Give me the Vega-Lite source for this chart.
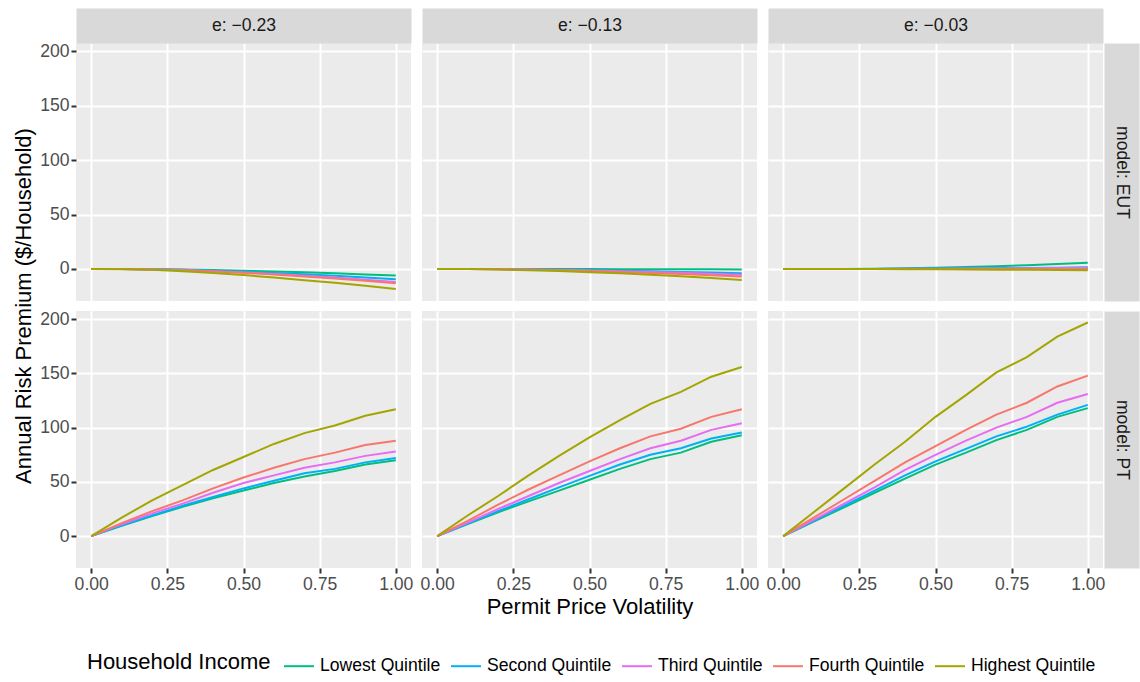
{
"$schema": "https://vega.github.io/schema/vega-lite/v6.json",
"padding": {"left": 12, "top": 16, "right": 24, "bottom": 0},
"background": "white",
"config": {
  "font": "Liberation Sans",
  "view": {"fill": "#EBEBEB", "stroke": null},
  "axis": {"gridColor": "#FFFFFF", "gridWidth": 2, "domain": false, "tickColor": "#333333", "tickWidth": 2, "tickSize": 5, "labelColor": "#4D4D4D", "labelFontSize": 17.6, "labelFont": "Liberation Sans", "labelFlush": false, "labelOverlap": false, "labelBound": false, "labelPadding": 2, "titleFont": "Liberation Sans", "titleFontSize": 22, "titleFontWeight": "normal", "titleColor": "#000000", "titlePadding": 4}
},
"data": {"values": [
{"m":"EUT","e":-0.23,"q":"Lowest Quintile","x":0,"y":0},{"m":"EUT","e":-0.23,"q":"Lowest Quintile","x":0.1,"y":0},{"m":"EUT","e":-0.23,"q":"Lowest Quintile","x":0.2,"y":-0.2},{"m":"EUT","e":-0.23,"q":"Lowest Quintile","x":0.3,"y":-0.5},{"m":"EUT","e":-0.23,"q":"Lowest Quintile","x":0.4,"y":-1},{"m":"EUT","e":-0.23,"q":"Lowest Quintile","x":0.5,"y":-1.6},{"m":"EUT","e":-0.23,"q":"Lowest Quintile","x":0.6,"y":-2.3},{"m":"EUT","e":-0.23,"q":"Lowest Quintile","x":0.7,"y":-3.1},{"m":"EUT","e":-0.23,"q":"Lowest Quintile","x":0.8,"y":-4},{"m":"EUT","e":-0.23,"q":"Lowest Quintile","x":0.9,"y":-5},{"m":"EUT","e":-0.23,"q":"Lowest Quintile","x":1,"y":-6},
{"m":"EUT","e":-0.23,"q":"Second Quintile","x":0,"y":0},{"m":"EUT","e":-0.23,"q":"Second Quintile","x":0.1,"y":0},{"m":"EUT","e":-0.23,"q":"Second Quintile","x":0.2,"y":-0.3},{"m":"EUT","e":-0.23,"q":"Second Quintile","x":0.3,"y":-0.8},{"m":"EUT","e":-0.23,"q":"Second Quintile","x":0.4,"y":-1.5},{"m":"EUT","e":-0.23,"q":"Second Quintile","x":0.5,"y":-2.5},{"m":"EUT","e":-0.23,"q":"Second Quintile","x":0.6,"y":-3.6},{"m":"EUT","e":-0.23,"q":"Second Quintile","x":0.7,"y":-4.9},{"m":"EUT","e":-0.23,"q":"Second Quintile","x":0.8,"y":-6.3},{"m":"EUT","e":-0.23,"q":"Second Quintile","x":0.9,"y":-7.8},{"m":"EUT","e":-0.23,"q":"Second Quintile","x":1,"y":-9.5},
{"m":"EUT","e":-0.23,"q":"Third Quintile","x":0,"y":0},{"m":"EUT","e":-0.23,"q":"Third Quintile","x":0.1,"y":0},{"m":"EUT","e":-0.23,"q":"Third Quintile","x":0.2,"y":-0.4},{"m":"EUT","e":-0.23,"q":"Third Quintile","x":0.3,"y":-1},{"m":"EUT","e":-0.23,"q":"Third Quintile","x":0.4,"y":-2},{"m":"EUT","e":-0.23,"q":"Third Quintile","x":0.5,"y":-3.2},{"m":"EUT","e":-0.23,"q":"Third Quintile","x":0.6,"y":-4.6},{"m":"EUT","e":-0.23,"q":"Third Quintile","x":0.7,"y":-6.2},{"m":"EUT","e":-0.23,"q":"Third Quintile","x":0.8,"y":-7.9},{"m":"EUT","e":-0.23,"q":"Third Quintile","x":0.9,"y":-9.9},{"m":"EUT","e":-0.23,"q":"Third Quintile","x":1,"y":-12},
{"m":"EUT","e":-0.23,"q":"Fourth Quintile","x":0,"y":0},{"m":"EUT","e":-0.23,"q":"Fourth Quintile","x":0.1,"y":0},{"m":"EUT","e":-0.23,"q":"Fourth Quintile","x":0.2,"y":-0.4},{"m":"EUT","e":-0.23,"q":"Fourth Quintile","x":0.3,"y":-1.1},{"m":"EUT","e":-0.23,"q":"Fourth Quintile","x":0.4,"y":-2.2},{"m":"EUT","e":-0.23,"q":"Fourth Quintile","x":0.5,"y":-3.5},{"m":"EUT","e":-0.23,"q":"Fourth Quintile","x":0.6,"y":-5},{"m":"EUT","e":-0.23,"q":"Fourth Quintile","x":0.7,"y":-6.8},{"m":"EUT","e":-0.23,"q":"Fourth Quintile","x":0.8,"y":-8.7},{"m":"EUT","e":-0.23,"q":"Fourth Quintile","x":0.9,"y":-10.8},{"m":"EUT","e":-0.23,"q":"Fourth Quintile","x":1,"y":-13},
{"m":"EUT","e":-0.23,"q":"Highest Quintile","x":0,"y":0},{"m":"EUT","e":-0.23,"q":"Highest Quintile","x":0.1,"y":-0.2},{"m":"EUT","e":-0.23,"q":"Highest Quintile","x":0.2,"y":-0.8},{"m":"EUT","e":-0.23,"q":"Highest Quintile","x":0.3,"y":-2},{"m":"EUT","e":-0.23,"q":"Highest Quintile","x":0.4,"y":-3.6},{"m":"EUT","e":-0.23,"q":"Highest Quintile","x":0.5,"y":-5.6},{"m":"EUT","e":-0.23,"q":"Highest Quintile","x":0.6,"y":-7.8},{"m":"EUT","e":-0.23,"q":"Highest Quintile","x":0.7,"y":-10.3},{"m":"EUT","e":-0.23,"q":"Highest Quintile","x":0.8,"y":-12.6},{"m":"EUT","e":-0.23,"q":"Highest Quintile","x":0.9,"y":-15.4},{"m":"EUT","e":-0.23,"q":"Highest Quintile","x":1,"y":-18.3},
{"m":"EUT","e":-0.13,"q":"Lowest Quintile","x":0,"y":0},{"m":"EUT","e":-0.13,"q":"Lowest Quintile","x":0.1,"y":0},{"m":"EUT","e":-0.13,"q":"Lowest Quintile","x":0.2,"y":0},{"m":"EUT","e":-0.13,"q":"Lowest Quintile","x":0.3,"y":0},{"m":"EUT","e":-0.13,"q":"Lowest Quintile","x":0.4,"y":-0.1},{"m":"EUT","e":-0.13,"q":"Lowest Quintile","x":0.5,"y":-0.1},{"m":"EUT","e":-0.13,"q":"Lowest Quintile","x":0.6,"y":-0.2},{"m":"EUT","e":-0.13,"q":"Lowest Quintile","x":0.7,"y":-0.2},{"m":"EUT","e":-0.13,"q":"Lowest Quintile","x":0.8,"y":-0.3},{"m":"EUT","e":-0.13,"q":"Lowest Quintile","x":0.9,"y":-0.3},{"m":"EUT","e":-0.13,"q":"Lowest Quintile","x":1,"y":-0.4},
{"m":"EUT","e":-0.13,"q":"Second Quintile","x":0,"y":0},{"m":"EUT","e":-0.13,"q":"Second Quintile","x":0.1,"y":0},{"m":"EUT","e":-0.13,"q":"Second Quintile","x":0.2,"y":-0.1},{"m":"EUT","e":-0.13,"q":"Second Quintile","x":0.3,"y":-0.3},{"m":"EUT","e":-0.13,"q":"Second Quintile","x":0.4,"y":-0.6},{"m":"EUT","e":-0.13,"q":"Second Quintile","x":0.5,"y":-1},{"m":"EUT","e":-0.13,"q":"Second Quintile","x":0.6,"y":-1.5},{"m":"EUT","e":-0.13,"q":"Second Quintile","x":0.7,"y":-2.1},{"m":"EUT","e":-0.13,"q":"Second Quintile","x":0.8,"y":-2.7},{"m":"EUT","e":-0.13,"q":"Second Quintile","x":0.9,"y":-3.3},{"m":"EUT","e":-0.13,"q":"Second Quintile","x":1,"y":-4},
{"m":"EUT","e":-0.13,"q":"Third Quintile","x":0,"y":0},{"m":"EUT","e":-0.13,"q":"Third Quintile","x":0.1,"y":0},{"m":"EUT","e":-0.13,"q":"Third Quintile","x":0.2,"y":-0.2},{"m":"EUT","e":-0.13,"q":"Third Quintile","x":0.3,"y":-0.5},{"m":"EUT","e":-0.13,"q":"Third Quintile","x":0.4,"y":-0.9},{"m":"EUT","e":-0.13,"q":"Third Quintile","x":0.5,"y":-1.4},{"m":"EUT","e":-0.13,"q":"Third Quintile","x":0.6,"y":-2},{"m":"EUT","e":-0.13,"q":"Third Quintile","x":0.7,"y":-2.7},{"m":"EUT","e":-0.13,"q":"Third Quintile","x":0.8,"y":-3.5},{"m":"EUT","e":-0.13,"q":"Third Quintile","x":0.9,"y":-4.3},{"m":"EUT","e":-0.13,"q":"Third Quintile","x":1,"y":-5.2},
{"m":"EUT","e":-0.13,"q":"Fourth Quintile","x":0,"y":0},{"m":"EUT","e":-0.13,"q":"Fourth Quintile","x":0.1,"y":0},{"m":"EUT","e":-0.13,"q":"Fourth Quintile","x":0.2,"y":-0.3},{"m":"EUT","e":-0.13,"q":"Fourth Quintile","x":0.3,"y":-0.7},{"m":"EUT","e":-0.13,"q":"Fourth Quintile","x":0.4,"y":-1.2},{"m":"EUT","e":-0.13,"q":"Fourth Quintile","x":0.5,"y":-1.9},{"m":"EUT","e":-0.13,"q":"Fourth Quintile","x":0.6,"y":-2.7},{"m":"EUT","e":-0.13,"q":"Fourth Quintile","x":0.7,"y":-3.6},{"m":"EUT","e":-0.13,"q":"Fourth Quintile","x":0.8,"y":-4.6},{"m":"EUT","e":-0.13,"q":"Fourth Quintile","x":0.9,"y":-5.7},{"m":"EUT","e":-0.13,"q":"Fourth Quintile","x":1,"y":-6.8},
{"m":"EUT","e":-0.13,"q":"Highest Quintile","x":0,"y":0},{"m":"EUT","e":-0.13,"q":"Highest Quintile","x":0.1,"y":-0.1},{"m":"EUT","e":-0.13,"q":"Highest Quintile","x":0.2,"y":-0.5},{"m":"EUT","e":-0.13,"q":"Highest Quintile","x":0.3,"y":-1.1},{"m":"EUT","e":-0.13,"q":"Highest Quintile","x":0.4,"y":-1.9},{"m":"EUT","e":-0.13,"q":"Highest Quintile","x":0.5,"y":-2.9},{"m":"EUT","e":-0.13,"q":"Highest Quintile","x":0.6,"y":-4},{"m":"EUT","e":-0.13,"q":"Highest Quintile","x":0.7,"y":-5.3},{"m":"EUT","e":-0.13,"q":"Highest Quintile","x":0.8,"y":-6.7},{"m":"EUT","e":-0.13,"q":"Highest Quintile","x":0.9,"y":-8.3},{"m":"EUT","e":-0.13,"q":"Highest Quintile","x":1,"y":-10},
{"m":"EUT","e":-0.03,"q":"Lowest Quintile","x":0,"y":0},{"m":"EUT","e":-0.03,"q":"Lowest Quintile","x":0.1,"y":0},{"m":"EUT","e":-0.03,"q":"Lowest Quintile","x":0.2,"y":0.1},{"m":"EUT","e":-0.03,"q":"Lowest Quintile","x":0.3,"y":0.3},{"m":"EUT","e":-0.03,"q":"Lowest Quintile","x":0.4,"y":0.7},{"m":"EUT","e":-0.03,"q":"Lowest Quintile","x":0.5,"y":1.2},{"m":"EUT","e":-0.03,"q":"Lowest Quintile","x":0.6,"y":1.8},{"m":"EUT","e":-0.03,"q":"Lowest Quintile","x":0.7,"y":2.6},{"m":"EUT","e":-0.03,"q":"Lowest Quintile","x":0.8,"y":3.5},{"m":"EUT","e":-0.03,"q":"Lowest Quintile","x":0.9,"y":4.6},{"m":"EUT","e":-0.03,"q":"Lowest Quintile","x":1,"y":5.8},
{"m":"EUT","e":-0.03,"q":"Second Quintile","x":0,"y":0},{"m":"EUT","e":-0.03,"q":"Second Quintile","x":0.1,"y":0},{"m":"EUT","e":-0.03,"q":"Second Quintile","x":0.2,"y":0},{"m":"EUT","e":-0.03,"q":"Second Quintile","x":0.3,"y":0.1},{"m":"EUT","e":-0.03,"q":"Second Quintile","x":0.4,"y":0.2},{"m":"EUT","e":-0.03,"q":"Second Quintile","x":0.5,"y":0.4},{"m":"EUT","e":-0.03,"q":"Second Quintile","x":0.6,"y":0.6},{"m":"EUT","e":-0.03,"q":"Second Quintile","x":0.7,"y":0.8},{"m":"EUT","e":-0.03,"q":"Second Quintile","x":0.8,"y":1},{"m":"EUT","e":-0.03,"q":"Second Quintile","x":0.9,"y":1.2},{"m":"EUT","e":-0.03,"q":"Second Quintile","x":1,"y":1.5},
{"m":"EUT","e":-0.03,"q":"Third Quintile","x":0,"y":0},{"m":"EUT","e":-0.03,"q":"Third Quintile","x":0.1,"y":0},{"m":"EUT","e":-0.03,"q":"Third Quintile","x":0.2,"y":0},{"m":"EUT","e":-0.03,"q":"Third Quintile","x":0.3,"y":0.1},{"m":"EUT","e":-0.03,"q":"Third Quintile","x":0.4,"y":0.2},{"m":"EUT","e":-0.03,"q":"Third Quintile","x":0.5,"y":0.3},{"m":"EUT","e":-0.03,"q":"Third Quintile","x":0.6,"y":0.4},{"m":"EUT","e":-0.03,"q":"Third Quintile","x":0.7,"y":0.5},{"m":"EUT","e":-0.03,"q":"Third Quintile","x":0.8,"y":0.7},{"m":"EUT","e":-0.03,"q":"Third Quintile","x":0.9,"y":0.8},{"m":"EUT","e":-0.03,"q":"Third Quintile","x":1,"y":1},
{"m":"EUT","e":-0.03,"q":"Fourth Quintile","x":0,"y":0},{"m":"EUT","e":-0.03,"q":"Fourth Quintile","x":0.1,"y":0},{"m":"EUT","e":-0.03,"q":"Fourth Quintile","x":0.2,"y":0},{"m":"EUT","e":-0.03,"q":"Fourth Quintile","x":0.3,"y":0},{"m":"EUT","e":-0.03,"q":"Fourth Quintile","x":0.4,"y":0},{"m":"EUT","e":-0.03,"q":"Fourth Quintile","x":0.5,"y":0},{"m":"EUT","e":-0.03,"q":"Fourth Quintile","x":0.6,"y":0},{"m":"EUT","e":-0.03,"q":"Fourth Quintile","x":0.7,"y":0},{"m":"EUT","e":-0.03,"q":"Fourth Quintile","x":0.8,"y":0.1},{"m":"EUT","e":-0.03,"q":"Fourth Quintile","x":0.9,"y":0.1},{"m":"EUT","e":-0.03,"q":"Fourth Quintile","x":1,"y":0.1},
{"m":"EUT","e":-0.03,"q":"Highest Quintile","x":0,"y":0},{"m":"EUT","e":-0.03,"q":"Highest Quintile","x":0.1,"y":0},{"m":"EUT","e":-0.03,"q":"Highest Quintile","x":0.2,"y":0},{"m":"EUT","e":-0.03,"q":"Highest Quintile","x":0.3,"y":-0.1},{"m":"EUT","e":-0.03,"q":"Highest Quintile","x":0.4,"y":-0.2},{"m":"EUT","e":-0.03,"q":"Highest Quintile","x":0.5,"y":-0.3},{"m":"EUT","e":-0.03,"q":"Highest Quintile","x":0.6,"y":-0.5},{"m":"EUT","e":-0.03,"q":"Highest Quintile","x":0.7,"y":-0.6},{"m":"EUT","e":-0.03,"q":"Highest Quintile","x":0.8,"y":-0.8},{"m":"EUT","e":-0.03,"q":"Highest Quintile","x":0.9,"y":-1},{"m":"EUT","e":-0.03,"q":"Highest Quintile","x":1,"y":-1.2},
{"m":"PT","e":-0.23,"q":"Lowest Quintile","x":0,"y":0},{"m":"PT","e":-0.23,"q":"Lowest Quintile","x":0.1,"y":9.5},{"m":"PT","e":-0.23,"q":"Lowest Quintile","x":0.2,"y":18.5},{"m":"PT","e":-0.23,"q":"Lowest Quintile","x":0.3,"y":27},{"m":"PT","e":-0.23,"q":"Lowest Quintile","x":0.4,"y":35},{"m":"PT","e":-0.23,"q":"Lowest Quintile","x":0.5,"y":42},{"m":"PT","e":-0.23,"q":"Lowest Quintile","x":0.6,"y":49},{"m":"PT","e":-0.23,"q":"Lowest Quintile","x":0.7,"y":55},{"m":"PT","e":-0.23,"q":"Lowest Quintile","x":0.8,"y":60},{"m":"PT","e":-0.23,"q":"Lowest Quintile","x":0.9,"y":66},{"m":"PT","e":-0.23,"q":"Lowest Quintile","x":1,"y":70},
{"m":"PT","e":-0.23,"q":"Second Quintile","x":0,"y":0},{"m":"PT","e":-0.23,"q":"Second Quintile","x":0.1,"y":10},{"m":"PT","e":-0.23,"q":"Second Quintile","x":0.2,"y":19},{"m":"PT","e":-0.23,"q":"Second Quintile","x":0.3,"y":28},{"m":"PT","e":-0.23,"q":"Second Quintile","x":0.4,"y":36},{"m":"PT","e":-0.23,"q":"Second Quintile","x":0.5,"y":44},{"m":"PT","e":-0.23,"q":"Second Quintile","x":0.6,"y":51},{"m":"PT","e":-0.23,"q":"Second Quintile","x":0.7,"y":58},{"m":"PT","e":-0.23,"q":"Second Quintile","x":0.8,"y":62},{"m":"PT","e":-0.23,"q":"Second Quintile","x":0.9,"y":68},{"m":"PT","e":-0.23,"q":"Second Quintile","x":1,"y":72},
{"m":"PT","e":-0.23,"q":"Third Quintile","x":0,"y":0},{"m":"PT","e":-0.23,"q":"Third Quintile","x":0.1,"y":11},{"m":"PT","e":-0.23,"q":"Third Quintile","x":0.2,"y":21},{"m":"PT","e":-0.23,"q":"Third Quintile","x":0.3,"y":30},{"m":"PT","e":-0.23,"q":"Third Quintile","x":0.4,"y":40},{"m":"PT","e":-0.23,"q":"Third Quintile","x":0.5,"y":49},{"m":"PT","e":-0.23,"q":"Third Quintile","x":0.6,"y":56},{"m":"PT","e":-0.23,"q":"Third Quintile","x":0.7,"y":63},{"m":"PT","e":-0.23,"q":"Third Quintile","x":0.8,"y":68},{"m":"PT","e":-0.23,"q":"Third Quintile","x":0.9,"y":74},{"m":"PT","e":-0.23,"q":"Third Quintile","x":1,"y":78},
{"m":"PT","e":-0.23,"q":"Fourth Quintile","x":0,"y":0},{"m":"PT","e":-0.23,"q":"Fourth Quintile","x":0.1,"y":12},{"m":"PT","e":-0.23,"q":"Fourth Quintile","x":0.2,"y":23},{"m":"PT","e":-0.23,"q":"Fourth Quintile","x":0.3,"y":33},{"m":"PT","e":-0.23,"q":"Fourth Quintile","x":0.4,"y":44},{"m":"PT","e":-0.23,"q":"Fourth Quintile","x":0.5,"y":54},{"m":"PT","e":-0.23,"q":"Fourth Quintile","x":0.6,"y":63},{"m":"PT","e":-0.23,"q":"Fourth Quintile","x":0.7,"y":71},{"m":"PT","e":-0.23,"q":"Fourth Quintile","x":0.8,"y":77},{"m":"PT","e":-0.23,"q":"Fourth Quintile","x":0.9,"y":84},{"m":"PT","e":-0.23,"q":"Fourth Quintile","x":1,"y":88},
{"m":"PT","e":-0.23,"q":"Highest Quintile","x":0,"y":0},{"m":"PT","e":-0.23,"q":"Highest Quintile","x":0.1,"y":17},{"m":"PT","e":-0.23,"q":"Highest Quintile","x":0.2,"y":33},{"m":"PT","e":-0.23,"q":"Highest Quintile","x":0.3,"y":47},{"m":"PT","e":-0.23,"q":"Highest Quintile","x":0.4,"y":61},{"m":"PT","e":-0.23,"q":"Highest Quintile","x":0.5,"y":73},{"m":"PT","e":-0.23,"q":"Highest Quintile","x":0.6,"y":85},{"m":"PT","e":-0.23,"q":"Highest Quintile","x":0.7,"y":95},{"m":"PT","e":-0.23,"q":"Highest Quintile","x":0.8,"y":102},{"m":"PT","e":-0.23,"q":"Highest Quintile","x":0.9,"y":111},{"m":"PT","e":-0.23,"q":"Highest Quintile","x":1,"y":117},
{"m":"PT","e":-0.13,"q":"Lowest Quintile","x":0,"y":0},{"m":"PT","e":-0.13,"q":"Lowest Quintile","x":0.1,"y":11},{"m":"PT","e":-0.13,"q":"Lowest Quintile","x":0.2,"y":22},{"m":"PT","e":-0.13,"q":"Lowest Quintile","x":0.3,"y":32},{"m":"PT","e":-0.13,"q":"Lowest Quintile","x":0.4,"y":42},{"m":"PT","e":-0.13,"q":"Lowest Quintile","x":0.5,"y":52},{"m":"PT","e":-0.13,"q":"Lowest Quintile","x":0.6,"y":62},{"m":"PT","e":-0.13,"q":"Lowest Quintile","x":0.7,"y":71},{"m":"PT","e":-0.13,"q":"Lowest Quintile","x":0.8,"y":77},{"m":"PT","e":-0.13,"q":"Lowest Quintile","x":0.9,"y":87},{"m":"PT","e":-0.13,"q":"Lowest Quintile","x":1,"y":93},
{"m":"PT","e":-0.13,"q":"Second Quintile","x":0,"y":0},{"m":"PT","e":-0.13,"q":"Second Quintile","x":0.1,"y":11.5},{"m":"PT","e":-0.13,"q":"Second Quintile","x":0.2,"y":23},{"m":"PT","e":-0.13,"q":"Second Quintile","x":0.3,"y":34},{"m":"PT","e":-0.13,"q":"Second Quintile","x":0.4,"y":45},{"m":"PT","e":-0.13,"q":"Second Quintile","x":0.5,"y":55.5},{"m":"PT","e":-0.13,"q":"Second Quintile","x":0.6,"y":66},{"m":"PT","e":-0.13,"q":"Second Quintile","x":0.7,"y":75},{"m":"PT","e":-0.13,"q":"Second Quintile","x":0.8,"y":81},{"m":"PT","e":-0.13,"q":"Second Quintile","x":0.9,"y":90},{"m":"PT","e":-0.13,"q":"Second Quintile","x":1,"y":95.5},
{"m":"PT","e":-0.13,"q":"Third Quintile","x":0,"y":0},{"m":"PT","e":-0.13,"q":"Third Quintile","x":0.1,"y":12.5},{"m":"PT","e":-0.13,"q":"Third Quintile","x":0.2,"y":25},{"m":"PT","e":-0.13,"q":"Third Quintile","x":0.3,"y":37},{"m":"PT","e":-0.13,"q":"Third Quintile","x":0.4,"y":49},{"m":"PT","e":-0.13,"q":"Third Quintile","x":0.5,"y":60},{"m":"PT","e":-0.13,"q":"Third Quintile","x":0.6,"y":71},{"m":"PT","e":-0.13,"q":"Third Quintile","x":0.7,"y":81},{"m":"PT","e":-0.13,"q":"Third Quintile","x":0.8,"y":88},{"m":"PT","e":-0.13,"q":"Third Quintile","x":0.9,"y":98},{"m":"PT","e":-0.13,"q":"Third Quintile","x":1,"y":104},
{"m":"PT","e":-0.13,"q":"Fourth Quintile","x":0,"y":0},{"m":"PT","e":-0.13,"q":"Fourth Quintile","x":0.1,"y":14},{"m":"PT","e":-0.13,"q":"Fourth Quintile","x":0.2,"y":29},{"m":"PT","e":-0.13,"q":"Fourth Quintile","x":0.3,"y":43},{"m":"PT","e":-0.13,"q":"Fourth Quintile","x":0.4,"y":56},{"m":"PT","e":-0.13,"q":"Fourth Quintile","x":0.5,"y":69},{"m":"PT","e":-0.13,"q":"Fourth Quintile","x":0.6,"y":81},{"m":"PT","e":-0.13,"q":"Fourth Quintile","x":0.7,"y":92},{"m":"PT","e":-0.13,"q":"Fourth Quintile","x":0.8,"y":99},{"m":"PT","e":-0.13,"q":"Fourth Quintile","x":0.9,"y":110},{"m":"PT","e":-0.13,"q":"Fourth Quintile","x":1,"y":117},
{"m":"PT","e":-0.13,"q":"Highest Quintile","x":0,"y":0},{"m":"PT","e":-0.13,"q":"Highest Quintile","x":0.1,"y":19},{"m":"PT","e":-0.13,"q":"Highest Quintile","x":0.2,"y":37},{"m":"PT","e":-0.13,"q":"Highest Quintile","x":0.3,"y":56},{"m":"PT","e":-0.13,"q":"Highest Quintile","x":0.4,"y":74},{"m":"PT","e":-0.13,"q":"Highest Quintile","x":0.5,"y":91},{"m":"PT","e":-0.13,"q":"Highest Quintile","x":0.6,"y":107},{"m":"PT","e":-0.13,"q":"Highest Quintile","x":0.7,"y":122},{"m":"PT","e":-0.13,"q":"Highest Quintile","x":0.8,"y":133},{"m":"PT","e":-0.13,"q":"Highest Quintile","x":0.9,"y":147},{"m":"PT","e":-0.13,"q":"Highest Quintile","x":1,"y":156},
{"m":"PT","e":-0.03,"q":"Lowest Quintile","x":0,"y":0},{"m":"PT","e":-0.03,"q":"Lowest Quintile","x":0.1,"y":13.5},{"m":"PT","e":-0.03,"q":"Lowest Quintile","x":0.2,"y":26.5},{"m":"PT","e":-0.03,"q":"Lowest Quintile","x":0.3,"y":40},{"m":"PT","e":-0.03,"q":"Lowest Quintile","x":0.4,"y":53},{"m":"PT","e":-0.03,"q":"Lowest Quintile","x":0.5,"y":66},{"m":"PT","e":-0.03,"q":"Lowest Quintile","x":0.6,"y":77},{"m":"PT","e":-0.03,"q":"Lowest Quintile","x":0.7,"y":88.5},{"m":"PT","e":-0.03,"q":"Lowest Quintile","x":0.8,"y":98},{"m":"PT","e":-0.03,"q":"Lowest Quintile","x":0.9,"y":110},{"m":"PT","e":-0.03,"q":"Lowest Quintile","x":1,"y":118},
{"m":"PT","e":-0.03,"q":"Second Quintile","x":0,"y":0},{"m":"PT","e":-0.03,"q":"Second Quintile","x":0.1,"y":14},{"m":"PT","e":-0.03,"q":"Second Quintile","x":0.2,"y":28},{"m":"PT","e":-0.03,"q":"Second Quintile","x":0.3,"y":42},{"m":"PT","e":-0.03,"q":"Second Quintile","x":0.4,"y":56},{"m":"PT","e":-0.03,"q":"Second Quintile","x":0.5,"y":69},{"m":"PT","e":-0.03,"q":"Second Quintile","x":0.6,"y":80.5},{"m":"PT","e":-0.03,"q":"Second Quintile","x":0.7,"y":92},{"m":"PT","e":-0.03,"q":"Second Quintile","x":0.8,"y":101},{"m":"PT","e":-0.03,"q":"Second Quintile","x":0.9,"y":112},{"m":"PT","e":-0.03,"q":"Second Quintile","x":1,"y":121},
{"m":"PT","e":-0.03,"q":"Third Quintile","x":0,"y":0},{"m":"PT","e":-0.03,"q":"Third Quintile","x":0.1,"y":15},{"m":"PT","e":-0.03,"q":"Third Quintile","x":0.2,"y":30},{"m":"PT","e":-0.03,"q":"Third Quintile","x":0.3,"y":45},{"m":"PT","e":-0.03,"q":"Third Quintile","x":0.4,"y":61},{"m":"PT","e":-0.03,"q":"Third Quintile","x":0.5,"y":75},{"m":"PT","e":-0.03,"q":"Third Quintile","x":0.6,"y":88},{"m":"PT","e":-0.03,"q":"Third Quintile","x":0.7,"y":100},{"m":"PT","e":-0.03,"q":"Third Quintile","x":0.8,"y":110},{"m":"PT","e":-0.03,"q":"Third Quintile","x":0.9,"y":123},{"m":"PT","e":-0.03,"q":"Third Quintile","x":1,"y":131},
{"m":"PT","e":-0.03,"q":"Fourth Quintile","x":0,"y":0},{"m":"PT","e":-0.03,"q":"Fourth Quintile","x":0.1,"y":17},{"m":"PT","e":-0.03,"q":"Fourth Quintile","x":0.2,"y":34},{"m":"PT","e":-0.03,"q":"Fourth Quintile","x":0.3,"y":51},{"m":"PT","e":-0.03,"q":"Fourth Quintile","x":0.4,"y":68},{"m":"PT","e":-0.03,"q":"Fourth Quintile","x":0.5,"y":83},{"m":"PT","e":-0.03,"q":"Fourth Quintile","x":0.6,"y":98},{"m":"PT","e":-0.03,"q":"Fourth Quintile","x":0.7,"y":112},{"m":"PT","e":-0.03,"q":"Fourth Quintile","x":0.8,"y":123},{"m":"PT","e":-0.03,"q":"Fourth Quintile","x":0.9,"y":138},{"m":"PT","e":-0.03,"q":"Fourth Quintile","x":1,"y":148},
{"m":"PT","e":-0.03,"q":"Highest Quintile","x":0,"y":0},{"m":"PT","e":-0.03,"q":"Highest Quintile","x":0.1,"y":22},{"m":"PT","e":-0.03,"q":"Highest Quintile","x":0.2,"y":44},{"m":"PT","e":-0.03,"q":"Highest Quintile","x":0.3,"y":66},{"m":"PT","e":-0.03,"q":"Highest Quintile","x":0.4,"y":87},{"m":"PT","e":-0.03,"q":"Highest Quintile","x":0.5,"y":110},{"m":"PT","e":-0.03,"q":"Highest Quintile","x":0.6,"y":130},{"m":"PT","e":-0.03,"q":"Highest Quintile","x":0.7,"y":151},{"m":"PT","e":-0.03,"q":"Highest Quintile","x":0.8,"y":165},{"m":"PT","e":-0.03,"q":"Highest Quintile","x":0.9,"y":184},{"m":"PT","e":-0.03,"q":"Highest Quintile","x":1,"y":197}
]},
"columns": 3,
"spacing": {"row": 10, "column": 11},
"bounds": "flush",
"concat": [
{
 "width": 335, "height": 258,
 "transform": [{"filter": "datum.m === 'EUT' && datum.e === -0.23"}],
 "layer": [
  {"mark": {"type": "line", "strokeWidth": 2},
   "encoding": {
    "x": {"field": "x", "type": "quantitative", "scale": {"domain": [-0.05, 1.05], "nice": false, "zero": false}, "axis": {"orient": "bottom", "values": [0, 0.25, 0.5, 0.75, 1], "labels": false, "ticks": false, "title": null}},
    "y": {"field": "y", "type": "quantitative", "scale": {"domain": [-29.4, 207.6], "nice": false, "zero": false}, "axis": {"orient": "left", "values": [0, 50, 100, 150, 200], "title": "Annual Risk Premium ($/Household)", "titleY": 262.5}},
    "color": {"field": "q", "type": "nominal", "scale": {"domain": ["Lowest Quintile", "Second Quintile", "Third Quintile", "Fourth Quintile", "Highest Quintile"], "range": ["#00BF7D", "#00B0F6", "#E76BF3", "#F8766D", "#A3A500"]}, "legend": {"orient": "none", "legendX": 11, "legendY": 607, "direction": "horizontal", "title": "Household Income", "titleOrient": "left", "titleAnchor": "middle", "titleLimit": 400, "titleFontSize": 22, "titleFontWeight": "normal", "titleColor": "#000000", "titlePadding": 12, "titleBaseline": "middle", "labelFontSize": 17.6, "labelColor": "#000000", "labelLimit": 300, "symbolType": "stroke", "symbolStrokeWidth": 2, "symbolSize": 900, "labelOffset": 5, "columnPadding": 6}}
   }},
  {"mark": {"type": "point", "opacity": 0},
   "encoding": {
    "x": {"field": "x", "type": "quantitative", "scale": {"domain": [-0.05, 1.05], "nice": false, "zero": false}, "axis": {"orient": "top", "values": [0.125, 0.375, 0.625, 0.875], "gridWidth": 1, "labels": false, "ticks": false, "domain": true, "domainWidth": 35, "domainColor": "#D9D9D9", "offset": 17.5, "title": "e: −0.23", "titleY": 0, "titleBaseline": "middle", "titleFontSize": 17.6, "titleColor": "#1A1A1A"}},
    "y": {"field": "y", "type": "quantitative", "scale": {"domain": [-29.4, 207.6], "nice": false, "zero": false}, "axis": {"orient": "right", "values": [-25, 25, 75, 125, 175], "gridWidth": 1, "labels": false, "ticks": false, "title": null}}
   }}
 ],
 "resolve": {"axis": {"x": "independent", "y": "independent"}}
},
{
 "width": 335, "height": 258,
 "transform": [{"filter": "datum.m === 'EUT' && datum.e === -0.13"}],
 "layer": [
  {"mark": {"type": "line", "strokeWidth": 2},
   "encoding": {
    "x": {"field": "x", "type": "quantitative", "scale": {"domain": [-0.05, 1.05], "nice": false, "zero": false}, "axis": {"orient": "bottom", "values": [0, 0.25, 0.5, 0.75, 1], "labels": false, "ticks": false, "title": null}},
    "y": {"field": "y", "type": "quantitative", "scale": {"domain": [-29.4, 207.6], "nice": false, "zero": false}, "axis": {"orient": "left", "values": [0, 50, 100, 150, 200], "labels": false, "ticks": false, "title": null}},
    "color": {"field": "q", "type": "nominal", "scale": {"domain": ["Lowest Quintile", "Second Quintile", "Third Quintile", "Fourth Quintile", "Highest Quintile"], "range": ["#00BF7D", "#00B0F6", "#E76BF3", "#F8766D", "#A3A500"]}, "legend": {"orient": "none", "legendX": 11, "legendY": 607, "direction": "horizontal", "title": "Household Income", "titleOrient": "left", "titleAnchor": "middle", "titleLimit": 400, "titleFontSize": 22, "titleFontWeight": "normal", "titleColor": "#000000", "titlePadding": 12, "titleBaseline": "middle", "labelFontSize": 17.6, "labelColor": "#000000", "labelLimit": 300, "symbolType": "stroke", "symbolStrokeWidth": 2, "symbolSize": 900, "labelOffset": 5, "columnPadding": 6}}
   }},
  {"mark": {"type": "point", "opacity": 0},
   "encoding": {
    "x": {"field": "x", "type": "quantitative", "scale": {"domain": [-0.05, 1.05], "nice": false, "zero": false}, "axis": {"orient": "top", "values": [0.125, 0.375, 0.625, 0.875], "gridWidth": 1, "labels": false, "ticks": false, "domain": true, "domainWidth": 35, "domainColor": "#D9D9D9", "offset": 17.5, "title": "e: −0.13", "titleY": 0, "titleBaseline": "middle", "titleFontSize": 17.6, "titleColor": "#1A1A1A"}},
    "y": {"field": "y", "type": "quantitative", "scale": {"domain": [-29.4, 207.6], "nice": false, "zero": false}, "axis": {"orient": "right", "values": [-25, 25, 75, 125, 175], "gridWidth": 1, "labels": false, "ticks": false, "title": null}}
   }}
 ],
 "resolve": {"axis": {"x": "independent", "y": "independent"}}
},
{
 "width": 335, "height": 258,
 "transform": [{"filter": "datum.m === 'EUT' && datum.e === -0.03"}],
 "layer": [
  {"mark": {"type": "line", "strokeWidth": 2},
   "encoding": {
    "x": {"field": "x", "type": "quantitative", "scale": {"domain": [-0.05, 1.05], "nice": false, "zero": false}, "axis": {"orient": "bottom", "values": [0, 0.25, 0.5, 0.75, 1], "labels": false, "ticks": false, "title": null}},
    "y": {"field": "y", "type": "quantitative", "scale": {"domain": [-29.4, 207.6], "nice": false, "zero": false}, "axis": {"orient": "left", "values": [0, 50, 100, 150, 200], "labels": false, "ticks": false, "title": null}},
    "color": {"field": "q", "type": "nominal", "scale": {"domain": ["Lowest Quintile", "Second Quintile", "Third Quintile", "Fourth Quintile", "Highest Quintile"], "range": ["#00BF7D", "#00B0F6", "#E76BF3", "#F8766D", "#A3A500"]}, "legend": {"orient": "none", "legendX": 11, "legendY": 607, "direction": "horizontal", "title": "Household Income", "titleOrient": "left", "titleAnchor": "middle", "titleLimit": 400, "titleFontSize": 22, "titleFontWeight": "normal", "titleColor": "#000000", "titlePadding": 12, "titleBaseline": "middle", "labelFontSize": 17.6, "labelColor": "#000000", "labelLimit": 300, "symbolType": "stroke", "symbolStrokeWidth": 2, "symbolSize": 900, "labelOffset": 5, "columnPadding": 6}}
   }},
  {"mark": {"type": "point", "opacity": 0},
   "encoding": {
    "x": {"field": "x", "type": "quantitative", "scale": {"domain": [-0.05, 1.05], "nice": false, "zero": false}, "axis": {"orient": "top", "values": [0.125, 0.375, 0.625, 0.875], "gridWidth": 1, "labels": false, "ticks": false, "domain": true, "domainWidth": 35, "domainColor": "#D9D9D9", "offset": 17.5, "title": "e: −0.03", "titleY": 0, "titleBaseline": "middle", "titleFontSize": 17.6, "titleColor": "#1A1A1A"}},
    "y": {"field": "y", "type": "quantitative", "scale": {"domain": [-29.4, 207.6], "nice": false, "zero": false}, "axis": {"orient": "right", "values": [-25, 25, 75, 125, 175], "gridWidth": 1, "labels": false, "ticks": false, "domain": true, "domainWidth": 35, "domainColor": "#D9D9D9", "offset": 18.5, "title": "model: EUT", "titleAngle": 90, "titleX": 0, "titleY": 129, "titleAlign": "center", "titleBaseline": "middle", "titleFontSize": 17.6, "titleColor": "#1A1A1A"}}
   }}
 ],
 "resolve": {"axis": {"x": "independent", "y": "independent"}}
},
{
 "width": 335, "height": 257,
 "transform": [{"filter": "datum.m === 'PT' && datum.e === -0.23"}],
 "layer": [
  {"mark": {"type": "line", "strokeWidth": 2},
   "encoding": {
    "x": {"field": "x", "type": "quantitative", "scale": {"domain": [-0.05, 1.05], "nice": false, "zero": false}, "axis": {"orient": "bottom", "values": [0, 0.25, 0.5, 0.75, 1], "format": ".2f", "title": null}},
    "y": {"field": "y", "type": "quantitative", "scale": {"domain": [-29.4, 207.6], "nice": false, "zero": false}, "axis": {"orient": "left", "values": [0, 50, 100, 150, 200], "title": null}},
    "color": {"field": "q", "type": "nominal", "scale": {"domain": ["Lowest Quintile", "Second Quintile", "Third Quintile", "Fourth Quintile", "Highest Quintile"], "range": ["#00BF7D", "#00B0F6", "#E76BF3", "#F8766D", "#A3A500"]}, "legend": {"orient": "none", "legendX": 11, "legendY": 607, "direction": "horizontal", "title": "Household Income", "titleOrient": "left", "titleAnchor": "middle", "titleLimit": 400, "titleFontSize": 22, "titleFontWeight": "normal", "titleColor": "#000000", "titlePadding": 12, "titleBaseline": "middle", "labelFontSize": 17.6, "labelColor": "#000000", "labelLimit": 300, "symbolType": "stroke", "symbolStrokeWidth": 2, "symbolSize": 900, "labelOffset": 5, "columnPadding": 6}}
   }},
  {"mark": {"type": "point", "opacity": 0},
   "encoding": {
    "x": {"field": "x", "type": "quantitative", "scale": {"domain": [-0.05, 1.05], "nice": false, "zero": false}, "axis": {"orient": "top", "values": [0.125, 0.375, 0.625, 0.875], "gridWidth": 1, "labels": false, "ticks": false, "title": null}},
    "y": {"field": "y", "type": "quantitative", "scale": {"domain": [-29.4, 207.6], "nice": false, "zero": false}, "axis": {"orient": "right", "values": [-25, 25, 75, 125, 175], "gridWidth": 1, "labels": false, "ticks": false, "title": null}}
   }}
 ],
 "resolve": {"axis": {"x": "independent", "y": "independent"}}
},
{
 "width": 335, "height": 257,
 "transform": [{"filter": "datum.m === 'PT' && datum.e === -0.13"}],
 "layer": [
  {"mark": {"type": "line", "strokeWidth": 2},
   "encoding": {
    "x": {"field": "x", "type": "quantitative", "scale": {"domain": [-0.05, 1.05], "nice": false, "zero": false}, "axis": {"orient": "bottom", "values": [0, 0.25, 0.5, 0.75, 1], "format": ".2f", "title": "Permit Price Volatility"}},
    "y": {"field": "y", "type": "quantitative", "scale": {"domain": [-29.4, 207.6], "nice": false, "zero": false}, "axis": {"orient": "left", "values": [0, 50, 100, 150, 200], "labels": false, "ticks": false, "title": null}},
    "color": {"field": "q", "type": "nominal", "scale": {"domain": ["Lowest Quintile", "Second Quintile", "Third Quintile", "Fourth Quintile", "Highest Quintile"], "range": ["#00BF7D", "#00B0F6", "#E76BF3", "#F8766D", "#A3A500"]}, "legend": {"orient": "none", "legendX": 11, "legendY": 607, "direction": "horizontal", "title": "Household Income", "titleOrient": "left", "titleAnchor": "middle", "titleLimit": 400, "titleFontSize": 22, "titleFontWeight": "normal", "titleColor": "#000000", "titlePadding": 12, "titleBaseline": "middle", "labelFontSize": 17.6, "labelColor": "#000000", "labelLimit": 300, "symbolType": "stroke", "symbolStrokeWidth": 2, "symbolSize": 900, "labelOffset": 5, "columnPadding": 6}}
   }},
  {"mark": {"type": "point", "opacity": 0},
   "encoding": {
    "x": {"field": "x", "type": "quantitative", "scale": {"domain": [-0.05, 1.05], "nice": false, "zero": false}, "axis": {"orient": "top", "values": [0.125, 0.375, 0.625, 0.875], "gridWidth": 1, "labels": false, "ticks": false, "title": null}},
    "y": {"field": "y", "type": "quantitative", "scale": {"domain": [-29.4, 207.6], "nice": false, "zero": false}, "axis": {"orient": "right", "values": [-25, 25, 75, 125, 175], "gridWidth": 1, "labels": false, "ticks": false, "title": null}}
   }}
 ],
 "resolve": {"axis": {"x": "independent", "y": "independent"}}
},
{
 "width": 335, "height": 257,
 "transform": [{"filter": "datum.m === 'PT' && datum.e === -0.03"}],
 "layer": [
  {"mark": {"type": "line", "strokeWidth": 2},
   "encoding": {
    "x": {"field": "x", "type": "quantitative", "scale": {"domain": [-0.05, 1.05], "nice": false, "zero": false}, "axis": {"orient": "bottom", "values": [0, 0.25, 0.5, 0.75, 1], "format": ".2f", "title": null}},
    "y": {"field": "y", "type": "quantitative", "scale": {"domain": [-29.4, 207.6], "nice": false, "zero": false}, "axis": {"orient": "left", "values": [0, 50, 100, 150, 200], "labels": false, "ticks": false, "title": null}},
    "color": {"field": "q", "type": "nominal", "scale": {"domain": ["Lowest Quintile", "Second Quintile", "Third Quintile", "Fourth Quintile", "Highest Quintile"], "range": ["#00BF7D", "#00B0F6", "#E76BF3", "#F8766D", "#A3A500"]}, "legend": {"orient": "none", "legendX": 11, "legendY": 607, "direction": "horizontal", "title": "Household Income", "titleOrient": "left", "titleAnchor": "middle", "titleLimit": 400, "titleFontSize": 22, "titleFontWeight": "normal", "titleColor": "#000000", "titlePadding": 12, "titleBaseline": "middle", "labelFontSize": 17.6, "labelColor": "#000000", "labelLimit": 300, "symbolType": "stroke", "symbolStrokeWidth": 2, "symbolSize": 900, "labelOffset": 5, "columnPadding": 6}}
   }},
  {"mark": {"type": "point", "opacity": 0},
   "encoding": {
    "x": {"field": "x", "type": "quantitative", "scale": {"domain": [-0.05, 1.05], "nice": false, "zero": false}, "axis": {"orient": "top", "values": [0.125, 0.375, 0.625, 0.875], "gridWidth": 1, "labels": false, "ticks": false, "title": null}},
    "y": {"field": "y", "type": "quantitative", "scale": {"domain": [-29.4, 207.6], "nice": false, "zero": false}, "axis": {"orient": "right", "values": [-25, 25, 75, 125, 175], "gridWidth": 1, "labels": false, "ticks": false, "domain": true, "domainWidth": 35, "domainColor": "#D9D9D9", "offset": 18.5, "title": "model: PT", "titleAngle": 90, "titleX": 0, "titleY": 128.5, "titleAlign": "center", "titleBaseline": "middle", "titleFontSize": 17.6, "titleColor": "#1A1A1A"}}
   }}
 ],
 "resolve": {"axis": {"x": "independent", "y": "independent"}}
}
]
}
